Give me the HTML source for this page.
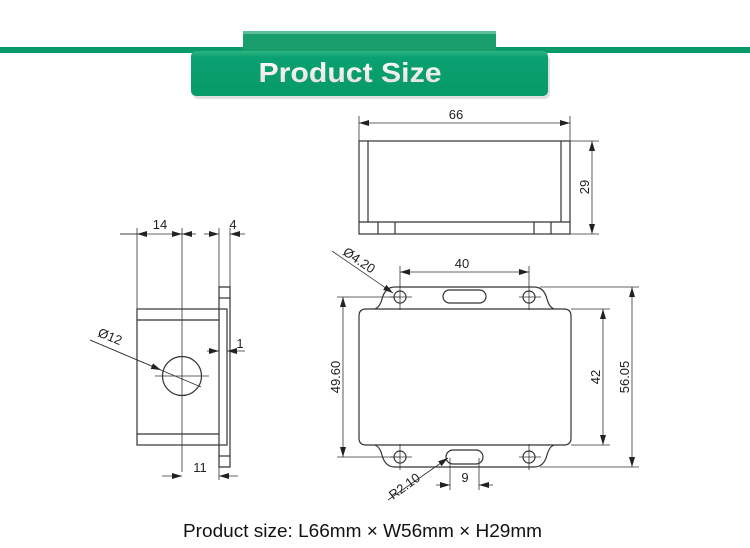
<!DOCTYPE html>
<html><head><meta charset="utf-8"><style>
html,body{margin:0;padding:0;background:#fff;}
svg{display:block;font-family:"Liberation Sans",Arial,sans-serif;}
</style></head><body>
<svg width="750" height="548" viewBox="0 0 750 548" xmlns="http://www.w3.org/2000/svg">
<defs>
<marker id="a" viewBox="0 0 10 6" refX="10" refY="3" markerWidth="10" markerHeight="6" markerUnits="userSpaceOnUse" orient="auto-start-reverse"><path d="M0,0 L10,3 L0,6 z" fill="#222"/></marker>
<linearGradient id="btn" x1="0" y1="0" x2="0" y2="1"><stop offset="0" stop-color="#2db484"/><stop offset="0.15" stop-color="#0aa070"/><stop offset="1" stop-color="#089a69"/></linearGradient>
<linearGradient id="txt" x1="0" y1="0" x2="0" y2="1"><stop offset="0" stop-color="#fff"/><stop offset="1" stop-color="#e4dcdc"/></linearGradient>
</defs>
<rect width="750" height="548" fill="#fff"/>
<!-- header -->
<rect x="0" y="47" width="750" height="6" fill="#0a9a6a"/>
<rect x="243" y="31" width="253" height="20" fill="#1a9e6e"/>
<rect x="243" y="31" width="253" height="3" fill="#5cbf97"/>
<rect x="193" y="55" width="357" height="44" rx="5" fill="#000" opacity="0.12"/>
<rect x="191" y="51" width="357" height="45" rx="5" fill="url(#btn)"/>
<text x="350" y="82" font-size="28" font-weight="bold" fill="url(#txt)" text-anchor="middle" textLength="183" lengthAdjust="spacingAndGlyphs">Product Size</text>

<g stroke="#333" stroke-width="1.2" fill="none">
<!-- top view -->
<rect x="359" y="141" width="211" height="93"/>
<line x1="368" y1="141" x2="368" y2="222"/><line x1="561" y1="141" x2="561" y2="222"/>
<line x1="359" y1="222" x2="570" y2="222"/>
<line x1="378" y1="222" x2="378" y2="234"/><line x1="395" y1="222" x2="395" y2="234"/>
<line x1="534" y1="222" x2="534" y2="234"/><line x1="551" y1="222" x2="551" y2="234"/>
</g>
<g stroke="#333" stroke-width="0.8" fill="none">
<line x1="359" y1="116" x2="359" y2="141"/><line x1="570" y1="116" x2="570" y2="141"/>
<line x1="359" y1="123" x2="570" y2="123" marker-start="url(#a)" marker-end="url(#a)"/>
<line x1="570" y1="141" x2="599" y2="141"/><line x1="570" y1="234" x2="599" y2="234"/>
<line x1="592" y1="141" x2="592" y2="234" marker-start="url(#a)" marker-end="url(#a)"/>
</g>

<!-- front view -->
<g stroke="#333" stroke-width="1.2" fill="none">
<path d="M366,309 Q359,309 359,316 L359,438 Q359,445 366,445 L375,445 Q380,447 382,455 Q385,467 395,467 L534,467 Q544,467 547,455 Q549,447 554,445 L564,445 Q571,445 571,438 L571,316 Q571,309 564,309 L554,309 Q549,307 547,299 Q544,287 534,287 L395,287 Q385,287 382,299 Q380,307 375,309 Z"/>
<line x1="375" y1="309" x2="554" y2="309"/><line x1="375" y1="445" x2="554" y2="445"/>
<circle cx="400" cy="297" r="6"/><circle cx="529" cy="297" r="6"/>
<circle cx="400" cy="457" r="6"/><circle cx="529" cy="457" r="6"/>
<rect x="443" y="290" width="43" height="13" rx="6.5"/>
<rect x="446" y="450" width="37" height="14" rx="7"/>
</g>
<g stroke="#333" stroke-width="0.8" fill="none">
<line x1="390" y1="297" x2="412" y2="297"/><line x1="519" y1="297" x2="541" y2="297"/>
<line x1="390" y1="457" x2="412" y2="457"/><line x1="519" y1="457" x2="541" y2="457"/>
<line x1="400" y1="266" x2="400" y2="310"/><line x1="529" y1="266" x2="529" y2="310"/>
<line x1="400" y1="444" x2="400" y2="470"/><line x1="529" y1="444" x2="529" y2="470"/>
<line x1="400" y1="272" x2="529" y2="272" marker-start="url(#a)" marker-end="url(#a)"/>
<line x1="337" y1="297" x2="400" y2="297"/><line x1="337" y1="457" x2="400" y2="457"/>
<line x1="343" y1="297" x2="343" y2="457" marker-start="url(#a)" marker-end="url(#a)"/>
<line x1="571" y1="309" x2="610" y2="309"/><line x1="571" y1="445" x2="610" y2="445"/>
<line x1="603" y1="309" x2="603" y2="445" marker-start="url(#a)" marker-end="url(#a)"/>
<line x1="540" y1="287" x2="639" y2="287"/><line x1="540" y1="467" x2="639" y2="467"/>
<line x1="632" y1="287" x2="632" y2="467" marker-start="url(#a)" marker-end="url(#a)"/>
<line x1="332" y1="251" x2="393" y2="293" marker-end="url(#a)"/>
<line x1="388" y1="500" x2="448" y2="458" marker-end="url(#a)"/>
<line x1="450" y1="458" x2="450" y2="490"/><line x1="479" y1="458" x2="479" y2="490"/>
<line x1="436" y1="485" x2="450" y2="485" marker-end="url(#a)"/>
<line x1="493" y1="485" x2="479" y2="485" marker-end="url(#a)"/>
</g>

<!-- side view -->
<g stroke="#333" stroke-width="1.2" fill="none">
<rect x="137" y="309" width="90" height="136"/>
<line x1="137" y1="320" x2="219" y2="320"/><line x1="137" y1="434" x2="219" y2="434"/>
<path d="M219,287 L230,287 L230,467 L219,467 Z"/>
<line x1="219" y1="298" x2="230" y2="298"/><line x1="219" y1="456" x2="230" y2="456"/>
<circle cx="182" cy="376" r="19.5"/>
</g>
<g stroke="#333" stroke-width="0.8" fill="none">
<line x1="182" y1="228" x2="182" y2="472"/>
<line x1="137" y1="228" x2="137" y2="309"/>
<line x1="219" y1="228" x2="219" y2="480"/>
<line x1="230" y1="228" x2="230" y2="287"/>
<line x1="155" y1="376" x2="209" y2="376"/>
<line x1="120" y1="234" x2="182" y2="234" marker-end="url(#a)"/>
<line x1="137" y1="234" x2="120" y2="234"/>
<line x1="137" y1="234" x2="147" y2="234" marker-start="url(#a)"/>
<line x1="182" y1="234" x2="196" y2="234" marker-start="url(#a)"/>
<line x1="204" y1="234" x2="219" y2="234" marker-end="url(#a)"/>
<line x1="245" y1="234" x2="230" y2="234" marker-end="url(#a)"/>
<line x1="207" y1="351" x2="219" y2="351" marker-end="url(#a)"/>
<line x1="245" y1="351" x2="227" y2="351" marker-end="url(#a)"/>
<line x1="90" y1="340" x2="201" y2="387"/>
<line x1="90" y1="340" x2="161" y2="370" marker-end="url(#a)"/>
<line x1="162" y1="476" x2="182" y2="476" marker-end="url(#a)"/>
<line x1="238" y1="476" x2="219" y2="476" marker-end="url(#a)"/>
</g>

<g fill="#222" font-size="13">
<text x="456" y="119" text-anchor="middle">66</text>
<text transform="translate(589,187) rotate(-90)" text-anchor="middle">29</text>
<text x="462" y="268" text-anchor="middle">40</text>
<text transform="translate(340,377) rotate(-90)" text-anchor="middle">49.60</text>
<text transform="translate(600,377) rotate(-90)" text-anchor="middle">42</text>
<text transform="translate(629,377) rotate(-90)" text-anchor="middle">56.05</text>
<text transform="translate(342,254) rotate(34)">Ø4.20</text>
<text transform="translate(393,500) rotate(-36)">R2.10</text>
<text x="465" y="482" text-anchor="middle">9</text>
<text x="160" y="229" text-anchor="middle">14</text>
<text x="233" y="229" text-anchor="middle">4</text>
<text transform="translate(97,336) rotate(22)">Ø12</text>
<text x="240" y="348" text-anchor="middle">1</text>
<text x="200" y="472" text-anchor="middle">11</text>
</g>
<text x="183" y="537" font-size="18" fill="#111" textLength="359" lengthAdjust="spacingAndGlyphs">Product size: L66mm × W56mm × H29mm</text>
</svg>
</body></html>
